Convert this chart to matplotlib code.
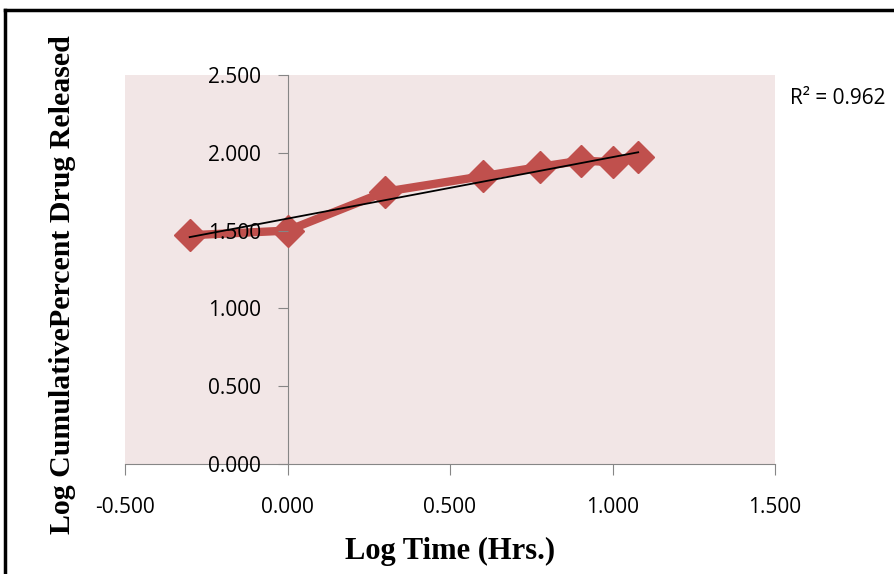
import numpy as np
import matplotlib
matplotlib.use("Agg")
import matplotlib.pyplot as plt
from matplotlib.lines import Line2D

# log time (hrs) and log cumulative percent drug released
log_time = [-0.301, 0.000, 0.301, 0.602, 0.778, 0.903, 1.000, 1.079]
log_release = [1.47, 1.50, 1.75, 1.85, 1.91, 1.95, 1.94, 1.97]
r2_label = "R² = 0.962"

x_ticks = [-0.5, 0.0, 0.5, 1.0, 1.5]
y_ticks = [0.0, 0.5, 1.0, 1.5, 2.0, 2.5]

W, H = 894, 574
fig = plt.figure(figsize=(W / 100, H / 100), dpi=100)
fig.patch.set_facecolor("white")

ax = fig.add_axes([125 / W, 1 - 464 / H, 650 / W, 389 / H])
ax.set_facecolor("#f2e6e6")

ax.plot(log_time, log_release, color="#c0504d", linewidth=6,
        marker="D", markersize=16, solid_joinstyle="round", zorder=3)

# linear trendline
coef = np.polyfit(log_time, log_release, 1)
xs = np.array([log_time[0], log_time[-1]])
ax.plot(xs, np.polyval(coef, xs), color="black", linewidth=1.3, zorder=4)

ax.set_xlim(-0.5, 1.5)
ax.set_ylim(0.0, 2.5)
ax.set_xticks(x_ticks)
ax.set_yticks(y_ticks)
ax.set_xticklabels([f"{v:.3f}" for v in x_ticks])
ax.set_yticklabels([f"{v:.3f}" for v in y_ticks])

for s in ("top", "right"):
    ax.spines[s].set_visible(False)
ax.spines["left"].set_position(("data", 0))
ax.spines["left"].set_color("#868686")
ax.spines["bottom"].set_color("#868686")
ax.spines["left"].set_zorder(2)

# tick labels sit on top of the series, as in the original
ax.yaxis.set_zorder(3.5)
ax.xaxis.set_zorder(3.5)

ax.tick_params(axis="y", direction="out", length=7, color="#868686", pad=12,
               labelsize=15)
ax.tick_params(axis="x", direction="out", length=8, color="#868686", pad=16,
               labelsize=15)
for lab in ax.get_xticklabels() + ax.get_yticklabels():
    lab.set_fontfamily(["Open Sans", "DejaVu Sans"])

fig.text(450 / W, 1 - 551 / H, "Log Time (Hrs.)", family="Liberation Serif",
         weight="bold", fontsize=22, ha="center", va="center")
fig.text(63 / W, 1 - 285 / H, "Log CumulativePercent Drug Released",
         family="Liberation Serif", weight="bold", fontsize=21.5,
         rotation=90, ha="center", va="center")

fig.text(790 / W, 1 - 99 / H, r2_label, family=["Open Sans", "DejaVu Sans"],
         fontsize=15, ha="left", va="center")

# outer frame (cropped chart border)
fig.add_artist(Line2D([5 / W, 1], [1 - 10 / H, 1 - 10 / H],
                      transform=fig.transFigure, color="black", linewidth=2.5))
fig.add_artist(Line2D([5 / W, 5 / W], [0, 1 - 10 / H],
                      transform=fig.transFigure, color="black", linewidth=2.5))

fig.savefig("out.png", dpi=100)
